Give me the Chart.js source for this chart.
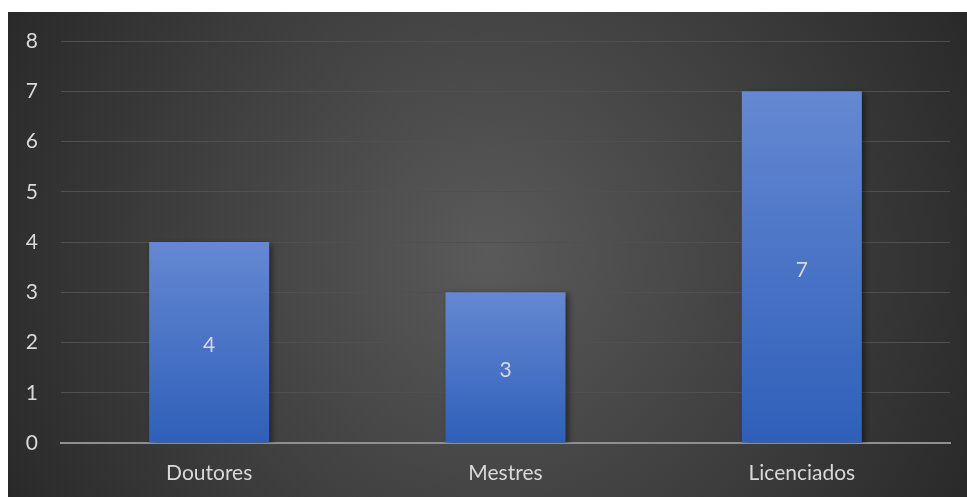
<!DOCTYPE html>
<html><head><meta charset="utf-8">
<script src="https://cdn.jsdelivr.net/npm/chart.js@4/dist/chart.umd.min.js"></script>
<style>
html,body{margin:0;padding:0;background:#fff;}
#wrap{position:absolute;left:8px;top:12px;width:959px;height:485px;}
</style></head>
<body><div id="wrap"><canvas id="c" width="959" height="485"></canvas></div>
<script>
const categories = ["Doutores", "Mestres", "Licenciados"];
const values = [4, 3, 7];
const yTicks = [0, 1, 2, 3, 4, 5, 6, 7, 8];

const FONT = "Lato, 'Open Sans', sans-serif";

const bgPlugin = {
  id: 'bg',
  beforeDraw(chart) {
    const {ctx, width, height} = chart;
    const g = ctx.createRadialGradient(width/2, height/2, 0, width/2, height/2, width*0.6);
    g.addColorStop(0, '#5a5a5a');
    g.addColorStop(1, '#262626');
    ctx.save();
    ctx.fillStyle = g;
    ctx.fillRect(0, 0, width, height);
    ctx.restore();
  }
};
const shadowPlugin = {
  id: 'shadow',
  beforeDatasetsDraw(chart) {
    const ctx = chart.ctx;
    ctx.save();
    ctx.shadowColor = 'rgba(0,0,0,0.45)';
    ctx.shadowBlur = 6;
    ctx.shadowOffsetX = 3;
    ctx.shadowOffsetY = 2;
  },
  afterDatasetsDraw(chart) {
    chart.ctx.restore();
    const ctx = chart.ctx;
    const meta = chart.getDatasetMeta(0);
    ctx.save();
    ctx.fillStyle = '#d9d9d9';
    ctx.font = '21px ' + FONT;
    ctx.textAlign = 'center';
    ctx.textBaseline = 'middle';
    meta.data.forEach((bar, i) => {
      const y = (bar.y + bar.base) / 2 + 3;
      ctx.fillText(String(values[i]), bar.x, y);
    });
    ctx.restore();
  }
};

function barGradient(context) {
  const chart = context.chart;
  const y = chart.scales && chart.scales.y;
  if (!y || context.dataIndex === undefined) return '#4472c4';
  const top = y.getPixelForValue(values[context.dataIndex]);
  const bot = y.getPixelForValue(0);
  if (!isFinite(top) || !isFinite(bot) || top === bot) return '#4472c4';
  const g = chart.ctx.createLinearGradient(0, top, 0, bot);
  g.addColorStop(0, '#6588d2');
  g.addColorStop(1, '#2f5fb9');
  return g;
}

new Chart(document.getElementById('c'), {
  type: 'bar',
  data: {
    labels: categories,
    datasets: [{
      data: values,
      backgroundColor: barGradient,
      borderWidth: 0,
      categoryPercentage: 1,
      barPercentage: 0.405
    }]
  },
  plugins: [bgPlugin, shadowPlugin],
  options: {
    responsive: false,
    animation: false,
    layout: { padding: { left: 0, right: 17, top: 29, bottom: 0 } },
    plugins: { legend: { display: false }, tooltip: { enabled: false } },
    scales: {
      x: {
        grid: { display: false, drawTicks: false },
        border: { display: true, color: '#8f8f8f', width: 2 },
        ticks: { color: '#d9d9d9', font: { family: FONT, size: 21 }, padding: 18 },
        afterFit(s) { s.height = 54; s.paddingLeft = 0; s.paddingRight = 0; }
      },
      y: {
        min: 0, max: 8,
        afterBuildTicks(s) { s.ticks = yTicks.map(v => ({ value: v })); },
        grid: { color: '#505050', lineWidth: 1, drawTicks: false },
        border: { display: false },
        ticks: { color: '#d9d9d9', font: { family: FONT, size: 21 }, padding: 23, stepSize: 1 },
        afterFit(s) { s.width = 53; s.paddingTop = 0; s.paddingBottom = 0; }
      }
    }
  }
});
</script></body></html>
